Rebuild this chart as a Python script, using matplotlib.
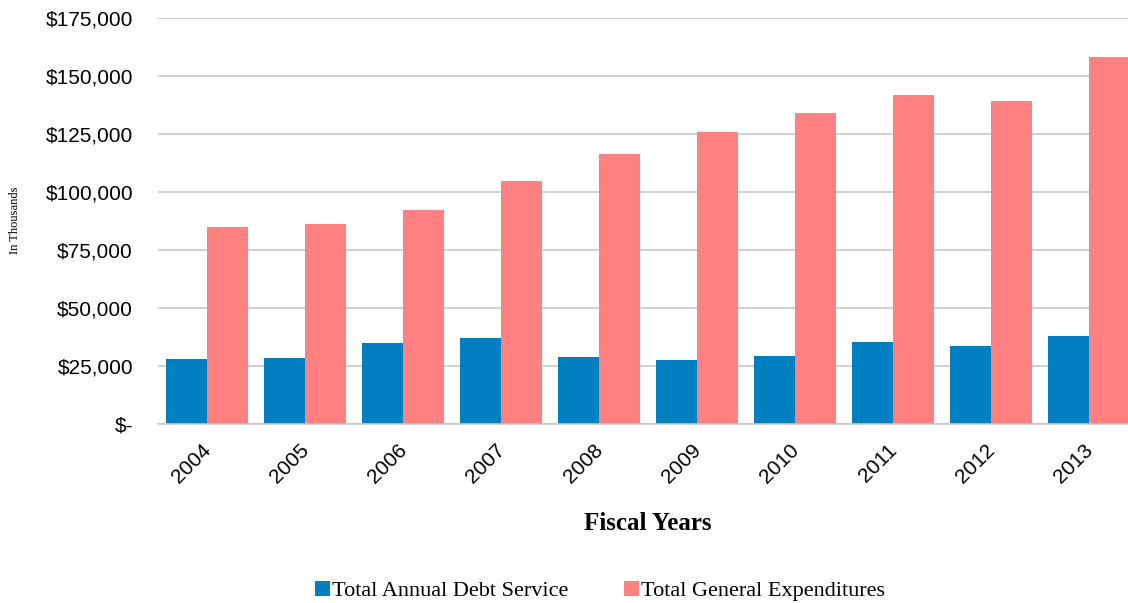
import numpy as np
import matplotlib.pyplot as plt
import matplotlib.transforms as mtransforms
from matplotlib.ticker import FuncFormatter

years = ["2004", "2005", "2006", "2007", "2008", "2009", "2010", "2011", "2012", "2013"]
debt_service = [27900, 28300, 35100, 36900, 28700, 27600, 29200, 35200, 33600, 37900]
general_exp = [85000, 86000, 92400, 104800, 116400, 126000, 134100, 141900, 139300, 158400]

blue = "#0080C0"
pink = "#FF8080"

fig = plt.figure(figsize=(11.28, 6.03), dpi=100)
ax = fig.add_axes([158 / 1128, 1 - 424 / 603, 980 / 1128, 406 / 603])

x = np.arange(len(years))
w = 0.418
ax.bar(x - w / 2, debt_service, w, color=blue, label="Total Annual Debt Service")
ax.bar(x + w / 2, general_exp, w, color=pink, label="Total General Expenditures")

ax.set_xlim(-0.5, len(years) - 0.5)
ax.set_ylim(0, 175000)
ax.set_yticks(np.arange(0, 175001, 25000))


def money(v, pos):
    if v == 0:
        return "$-"
    return "${:,.0f}".format(v)


ax.yaxis.set_major_formatter(FuncFormatter(money))
ax.yaxis.grid(True, color="#C8C8C8", linewidth=1.2)
ax.set_axisbelow(True)
for s in ["top", "right", "left"]:
    ax.spines[s].set_visible(False)
ax.spines["bottom"].set_color("#C8C8C8")
ax.spines["bottom"].set_linewidth(1.2)
ax.tick_params(axis="y", length=0, pad=18)
ax.tick_params(axis="x", length=0, pad=12)

ax.set_xticks(x)
ax.set_xticklabels(years, rotation=45, ha="right", rotation_mode="anchor",
                   fontsize=15, family="Liberation Sans")
shift = mtransforms.ScaledTranslation(-6 / 100, 0, fig.dpi_scale_trans)
for lbl in ax.get_xticklabels():
    lbl.set_transform(lbl.get_transform() + shift)
for lbl in ax.get_yticklabels():
    lbl.set_fontsize(15)
    lbl.set_family("Liberation Sans")

ax.set_xlabel("Fiscal Years", fontsize=18, family="Liberation Serif",
              fontweight="bold", labelpad=18)
fig.text(15 / 1128, 1 - 220 / 603, "In Thousands", rotation=90, va="center",
         ha="center", fontsize=9, family="Liberation Serif")

fig.legend(loc="center", bbox_to_anchor=(600 / 1128, 1 - 591 / 603), ncol=2,
           frameon=False, prop={"family": "Liberation Serif", "size": 16},
           handlelength=0.68, handleheight=0.68, handletextpad=0.1, columnspacing=2.5)

fig.savefig("out.png", dpi=100)
